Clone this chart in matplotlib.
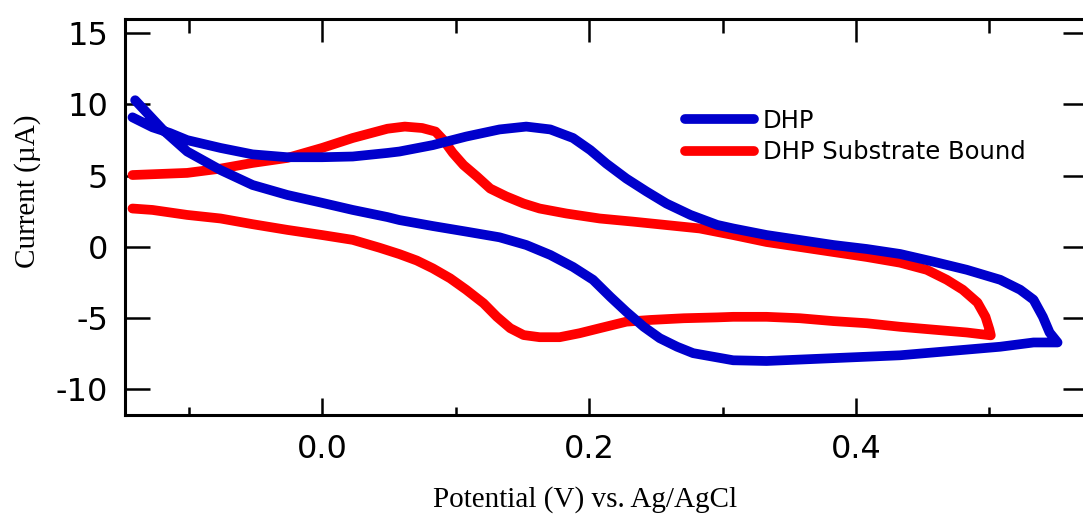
import matplotlib
matplotlib.use("Agg")
import matplotlib.pyplot as plt

# Cyclic voltammograms: potential (V vs. Ag/AgCl) and current (uA), in scan order
dhp_v = [-0.142, -0.127, -0.114, -0.101, -0.076, -0.052, -0.026, 0.000, 0.023, 0.049,
         0.058, 0.083, 0.108, 0.133, 0.153, 0.171, 0.188, 0.201, 0.213, 0.228,
         0.243, 0.258, 0.276, 0.296, 0.308, 0.333, 0.358, 0.383, 0.408, 0.433,
         0.458, 0.483, 0.508, 0.523, 0.533, 0.540, 0.545, 0.551,
         0.533, 0.508, 0.483, 0.458, 0.433, 0.408, 0.383, 0.358, 0.333, 0.308,
         0.296, 0.278, 0.266, 0.253, 0.241, 0.228, 0.216, 0.203, 0.188, 0.171,
         0.153, 0.133, 0.108, 0.083, 0.058, 0.049, 0.023, 0.000, -0.026, -0.052,
         -0.076, -0.101, -0.119, -0.131, -0.140]
dhp_i = [9.1, 8.4, 8.0, 7.5, 6.95, 6.5, 6.3, 6.3, 6.35, 6.6,
         6.7, 7.15, 7.75, 8.25, 8.45, 8.25, 7.65, 6.8, 5.85, 4.8,
         3.9, 3.05, 2.25, 1.55, 1.3, 0.84, 0.49, 0.14, -0.14, -0.49,
         -1.03, -1.6, -2.3, -3.0, -3.7, -4.9, -6.0, -6.7,
         -6.7, -7.0, -7.2, -7.4, -7.6, -7.7, -7.8, -7.9, -8.0, -7.95,
         -7.75, -7.45, -7.0, -6.4, -5.6, -4.55, -3.5, -2.3, -1.4, -0.56,
         0.14, 0.68, 1.08, 1.47, 1.89, 2.1, 2.6, 3.1, 3.65, 4.35,
         5.4, 6.7, 8.2, 9.4, 10.3]

bound_v = [-0.142, -0.101, -0.076, -0.052, -0.026, 0.000, 0.023, 0.049, 0.062, 0.075,
           0.085, 0.091, 0.098, 0.106, 0.116, 0.126, 0.138, 0.151, 0.163, 0.183,
           0.208, 0.233, 0.258, 0.283, 0.308, 0.333, 0.358, 0.383, 0.408, 0.433,
           0.453, 0.468, 0.480, 0.491, 0.497, 0.500, 0.501,
           0.483, 0.458, 0.433, 0.408, 0.383, 0.358, 0.333, 0.308, 0.296, 0.271,
           0.246, 0.228, 0.208, 0.193, 0.178, 0.163, 0.151, 0.141, 0.131, 0.121,
           0.108, 0.096, 0.083, 0.071, 0.058, 0.043, 0.023, 0.000, -0.026, -0.052,
           -0.076, -0.101, -0.127, -0.142]
bound_i = [5.05, 5.2, 5.5, 5.9, 6.25, 6.95, 7.65, 8.3, 8.45, 8.35,
           8.1, 7.5, 6.6, 5.75, 4.95, 4.1, 3.55, 3.05, 2.7, 2.35,
           2.0, 1.78, 1.54, 1.3, 0.84, 0.35, 0.0, -0.35, -0.7, -1.1,
           -1.6, -2.3, -3.0, -3.9, -4.9, -5.8, -6.2,
           -6.0, -5.8, -5.6, -5.35, -5.2, -5.0, -4.9, -4.9, -4.94, -5.0,
           -5.12, -5.24, -5.7, -6.05, -6.33, -6.33, -6.18, -5.7, -4.9, -3.95,
           -3.0, -2.2, -1.5, -0.95, -0.5, -0.05, 0.5, 0.84, 1.2, 1.6,
           2.0, 2.25, 2.6, 2.7]

series_labels = ["DHP", "DHP Substrate Bound"]
x_major = [0.0, 0.2, 0.4]
x_major_labels = ["0.0", "0.2", "0.4"]
x_minor = [-0.1, 0.1, 0.3, 0.5]
y_major = [-10, -5, 0, 5, 10, 15]
y_major_labels = ["-10", "-5", "0", "5", "10", "15"]

W, H = 1083, 515
fig = plt.figure(figsize=(W / 100, H / 100), dpi=100)
left, right, top, bottom = 125, 1088, 19, 415
ax = fig.add_axes([left / W, 1 - bottom / H, (right - left) / W, (bottom - top) / H])

blue = "#0000CC"
red = "#FF0000"
lw = 7.0
line_bound, = ax.plot(bound_v, bound_i, color=red, lw=lw, solid_capstyle="round",
                      solid_joinstyle="round", label=series_labels[1], zorder=2)
line_dhp, = ax.plot(dhp_v, dhp_i, color=blue, lw=lw, solid_capstyle="round",
                    solid_joinstyle="round", label=series_labels[0], zorder=3)

ax.set_xlim(-0.1476, 0.5738)
ax.set_ylim(-11.79, 16.0)

sans = ["DejaVu Sans"]
serif = ["Liberation Serif", "DejaVu Serif"]

ax.set_xticks(x_major)
ax.set_xticklabels(x_major_labels, fontfamily=sans, fontsize=23)
ax.set_xticks(x_minor, minor=True)
ax.set_yticks(y_major)
ax.set_yticklabels(y_major_labels, fontfamily=sans, fontsize=23)

for sp in ax.spines.values():
    sp.set_linewidth(2.2)

ax.tick_params(axis="x", which="major", direction="in", length=12.5, width=1.8,
               pad=14, bottom=True, top=False)
ax.tick_params(axis="x", which="minor", direction="in", length=6, width=1.8,
               bottom=True, top=False)
ax.tick_params(axis="y", which="major", direction="in", length=18, width=1.8,
               pad=12, left=True, right=True, labelright=False)

# top axis carries its own (longer) ticks
ax_top = ax.twiny()
ax_top.set_xlim(ax.get_xlim())
ax_top.set_xticks(x_major)
ax_top.set_xticks(x_minor, minor=True)
ax_top.tick_params(axis="x", which="major", direction="in", length=16.5, width=1.8,
                   labeltop=False)
ax_top.tick_params(axis="x", which="minor", direction="in", length=10, width=1.8)
for sp in ax_top.spines.values():
    sp.set_visible(False)

ax.set_xlabel("Potential (V) vs. Ag/AgCl", fontfamily=serif, fontsize=21,
              va="center")
ax.xaxis.set_label_coords((585 - left) / (right - left), (bottom - 500) / (bottom - top))
ax.set_ylabel("Current (\u00b5A)", fontfamily=serif, fontsize=21, va="center")
ax.yaxis.set_label_coords((28 - left) / (right - left), (bottom - 191) / (bottom - top))

leg = ax.legend([line_dhp, line_bound], series_labels, loc="upper left",
                bbox_to_anchor=((685 - left) / (right - left), (bottom - 109) / (bottom - top)),
                frameon=False, prop={"family": sans, "size": 17.5},
                handlelength=2.85, handletextpad=0.35, labelspacing=0.3,
                borderpad=0, borderaxespad=0)
for h in leg.get_lines():
    h.set_linewidth(7)
    h.set_solid_capstyle("round")

fig.savefig("out.png", dpi=100)
